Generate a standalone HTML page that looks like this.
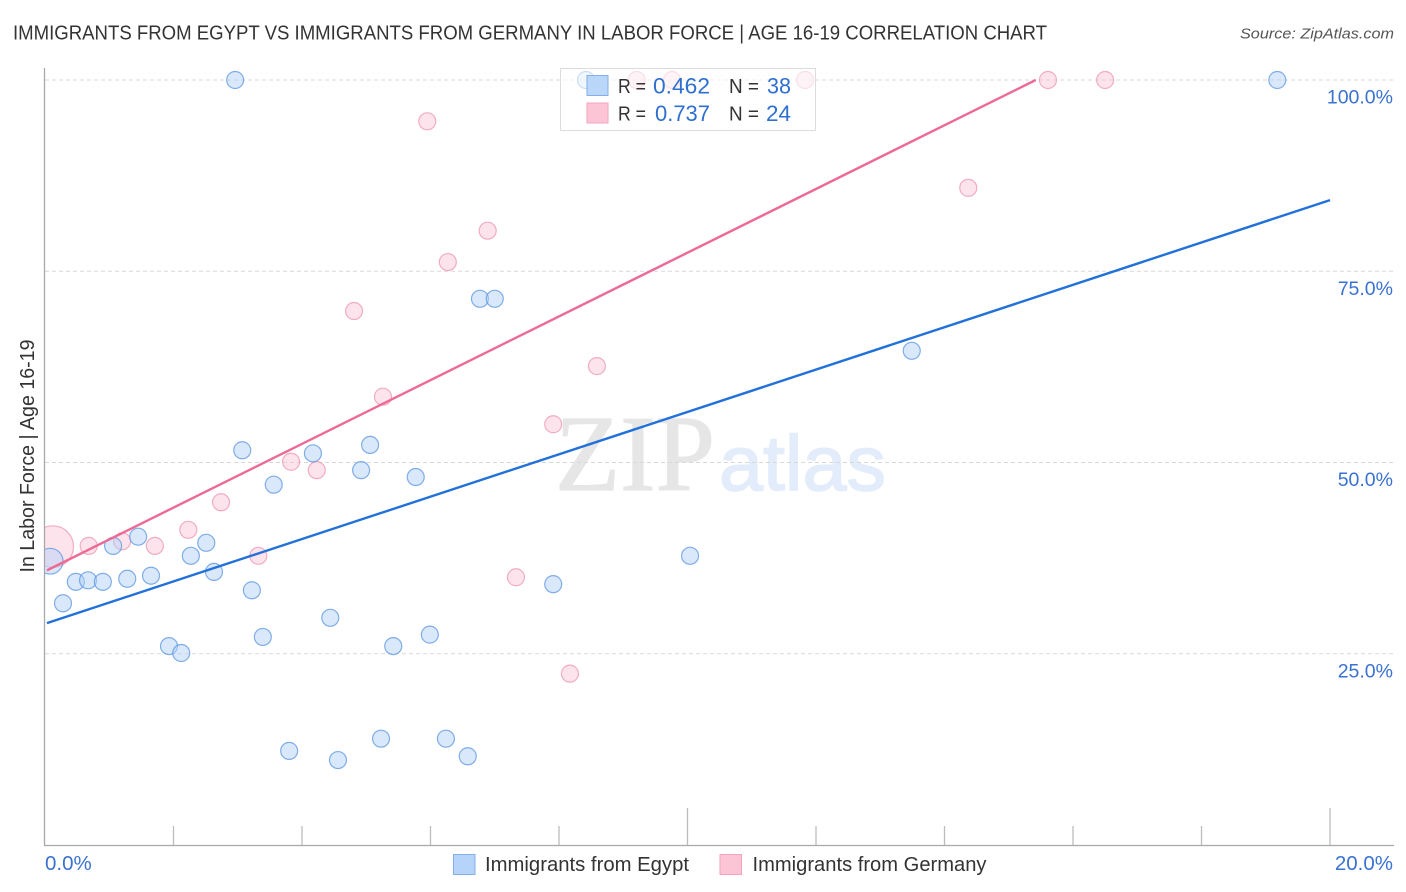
<!DOCTYPE html>
<html lang="en">
<head>
<meta charset="utf-8">
<title>Immigrants from Egypt vs Immigrants from Germany in Labor Force | Age 16-19 Correlation Chart</title>
<style>
html,body{margin:0;padding:0;background:#fff}
svg{display:block;font-family:"Liberation Sans",sans-serif}
</style>
</head>
<body>
<svg id="chart" xmlns="http://www.w3.org/2000/svg" width="1406" height="892" viewBox="0 0 1406 892">
<rect x="0" y="0" width="1406" height="892" fill="#ffffff"/>
<text x="13" y="39.5" font-size="20" fill="#333333" textLength="1034" lengthAdjust="spacingAndGlyphs">IMMIGRANTS FROM EGYPT VS IMMIGRANTS FROM GERMANY IN LABOR FORCE | AGE 16-19 CORRELATION CHART</text>
<text x="1394" y="38.5" font-size="15" font-style="italic" fill="#555555" text-anchor="end" textLength="154" lengthAdjust="spacingAndGlyphs">Source: ZipAtlas.com</text>
<g>
<text x="555" y="490" font-family="'Liberation Serif',serif" font-size="108" fill="#e6e6e6" stroke="#e6e6e6" stroke-width="1.2" textLength="160" lengthAdjust="spacingAndGlyphs">ZIP</text>
<text x="719" y="490" font-size="78" fill="#e3ecfa" stroke="#e3ecfa" stroke-width="1.5" textLength="167" lengthAdjust="spacingAndGlyphs">atlas</text>
</g>
<g id="grid"></g>
<g>
<g id="pink-points"></g>
<g id="blue-points"></g>
<g id="lines"></g>
</g>
<rect x="0" y="60" width="44.5" height="786" fill="#ffffff"/>
<g id="axes"></g>
<g id="tick-labels"></g>
<text transform="translate(34,456) rotate(-90)" font-size="20" fill="#333333" text-anchor="middle" textLength="233" lengthAdjust="spacingAndGlyphs">In Labor Force | Age 16-19</text>
<g>
<rect x="560.5" y="68.5" width="255" height="62" fill="#ffffff" fill-opacity="0.6" stroke="#dcdcdc" stroke-width="1"/>
<rect x="587" y="75.5" width="21" height="20" fill="#b6d4f9" stroke="#85ade6" stroke-width="1" fill-opacity="0.95"/>
<rect x="587" y="103" width="21" height="20" fill="#fcc5d6" stroke="#f3a3bd" stroke-width="1"/>
<text x="618" y="93" font-size="20" fill="#333333" textLength="28" lengthAdjust="spacingAndGlyphs">R =</text>
<text x="653" y="93.5" font-size="22" fill="#2f6fd0" textLength="57" lengthAdjust="spacingAndGlyphs">0.462</text>
<text x="729" y="93" font-size="20" fill="#333333" textLength="30" lengthAdjust="spacingAndGlyphs">N =</text>
<text x="767" y="93.5" font-size="22" fill="#2f6fd0" textLength="24" lengthAdjust="spacingAndGlyphs">38</text>
<text x="618" y="120.5" font-size="20" fill="#333333" textLength="28" lengthAdjust="spacingAndGlyphs">R =</text>
<text x="655" y="121" font-size="22" fill="#2f6fd0" textLength="55" lengthAdjust="spacingAndGlyphs">0.737</text>
<text x="729" y="120.5" font-size="20" fill="#333333" textLength="30" lengthAdjust="spacingAndGlyphs">N =</text>
<text x="766" y="121" font-size="22" fill="#2f6fd0" textLength="25" lengthAdjust="spacingAndGlyphs">24</text>
</g>
<g>
<rect x="453.5" y="854.5" width="21.5" height="20" fill="#b6d4f9" stroke="#85ade6" stroke-width="1"/>
<text x="485" y="871" font-size="20" fill="#333333" textLength="204" lengthAdjust="spacingAndGlyphs">Immigrants from Egypt</text>
<rect x="720" y="854.5" width="21.5" height="20" fill="#fcc5d6" stroke="#f3a3bd" stroke-width="1"/>
<text x="752.5" y="871" font-size="20" fill="#333333" textLength="234" lengthAdjust="spacingAndGlyphs">Immigrants from Germany</text>
</g>
</svg>
<script>
const yTickValues = [25, 50, 75, 100];
const yTickLabels = ["25.0%", "50.0%", "75.0%", "100.0%"];
const xTickValues = [0, 2, 4, 6, 8, 10, 12, 14, 16, 18, 20];
const xEndValues = [0, 20];
const xEndLabels = ["0.0%", "20.0%"];

const egyptX = [2.96, 8.42, 19.18, 6.77, 7.00, 13.49, 3.07, 4.17, 5.06, 4.92, 5.77, 3.56, 1.45, 1.06, 2.51, 2.27, 10.04, 0.08, 0.48, 0.67, 0.90, 1.28, 1.65, 2.63, 7.91, 3.22, 0.28, 4.44, 3.39, 5.99, 1.93, 2.12, 5.42, 3.80, 5.23, 6.24, 4.56, 6.58];
const egyptY = [100, 100, 100, 71.4, 71.4, 64.6, 51.6, 51.2, 52.3, 49.0, 48.1, 47.1, 40.3, 39.1, 39.5, 37.8, 37.8, 37.1, 34.4, 34.6, 34.4, 34.8, 35.2, 35.7, 34.1, 33.3, 31.6, 29.7, 27.2, 27.5, 26.0, 25.1, 26.0, 12.3, 13.9, 13.9, 11.1, 11.6];
const egyptWeight = [1, 1, 1, 1, 1, 1, 1, 1, 1, 1, 1, 1, 1, 1, 1, 1, 1, 2.3, 1, 1, 1, 1, 1, 1, 1, 1, 1, 1, 1, 1, 1, 1, 1, 1, 1, 1, 1, 1];

const germanyX = [9.21, 9.76, 11.83, 15.61, 16.50, 5.95, 14.37, 6.89, 6.27, 4.81, 8.59, 5.26, 7.91, 3.83, 4.23, 2.74, 2.23, 1.20, 0.68, 1.71, 0.12, 3.32, 7.33, 8.17];
const germanyY = [100, 100, 100, 100, 100, 94.6, 85.9, 80.3, 76.2, 69.8, 62.6, 58.6, 55.0, 50.1, 49.0, 44.8, 41.2, 39.7, 39.1, 39.1, 39.0, 37.8, 35.0, 22.4];
const germanyWeight = [1, 1, 1, 1, 1, 1, 1, 1, 1, 1, 1, 1, 1, 1, 1, 1, 1, 1, 1, 1, 6, 1, 1, 1];

const egyptTrendX = [0.03, 20];
const egyptTrendY = [29.0, 84.3];
const germanyTrendX = [0.03, 15.42];
const germanyTrendY = [35.9, 100];

const NS = "http://www.w3.org/2000/svg";
function xScale(v) { return 45 + v * 64.25; }
function yScale(v) { return 845 - v * 7.65; }
function radius(w) { return 8.5 * Math.sqrt(w); }
function make(tag, parentId, attrs) {
  const el = document.createElementNS(NS, tag);
  for (const k in attrs) el.setAttribute(k, attrs[k]);
  document.getElementById(parentId).appendChild(el);
  return el;
}

yTickValues.forEach(function (v) {
  const el = make("line", "grid", {x1: 45, x2: 1394, y1: yScale(v), y2: yScale(v), stroke: "#d8d8d8", "stroke-width": 1, "stroke-dasharray": "4 3"});
  
  
});

const yAxis = make("line", "axes", {x1: 44.5, x2: 44.5, y1: 68, y2: 845.5, stroke: "#a8a8a8", "stroke-width": 1.3});


const xAxis = make("line", "axes", {x1: 44, x2: 1394, y1: 845.5, y2: 845.5, stroke: "#a8a8a8", "stroke-width": 1.3});


xTickValues.slice(1).forEach(function (v) {
  const top = v % 10 === 0 ? 808 : 826;
  const el = make("line", "axes", {x1: xScale(v), x2: xScale(v), y1: top, y2: 845, stroke: "#bcbcbc", "stroke-width": 1.3});
  
  
});

germanyX.forEach(function (v, i) {
  const el = make("circle", "pink-points", {cx: xScale(v), cy: yScale(germanyY[i]), r: radius(germanyWeight[i]), fill: "#fbc3d4", "fill-opacity": 0.45, stroke: "#ee94b1", "stroke-opacity": 0.75, "stroke-width": 1.2});
  
  
});
egyptX.forEach(function (v, i) {
  const el = make("circle", "blue-points", {cx: xScale(v), cy: yScale(egyptY[i]), r: radius(egyptWeight[i]), fill: "#b3d1f6", "fill-opacity": 0.5, stroke: "#5b96e2", "stroke-opacity": 0.75, "stroke-width": 1.2});
  
  
});

const egyptLine = make("line", "lines", {x1: xScale(egyptTrendX[0]), y1: yScale(egyptTrendY[0]), x2: xScale(egyptTrendX[1]), y2: yScale(egyptTrendY[1]), stroke: "#2271d9", "stroke-width": 2.4});


const germanyLine = make("line", "lines", {x1: xScale(germanyTrendX[0]), y1: yScale(germanyTrendY[0]), x2: xScale(germanyTrendX[1]), y2: yScale(germanyTrendY[1]), stroke: "#ec6a94", "stroke-width": 2.4});



yTickValues.forEach(function (v, i) {
  const el = make("text", "tick-labels", {x: 1393, y: yScale(v) + 23.5, "text-anchor": "end", "font-size": 19.5, fill: "#3a72d0"});
  el.textContent = yTickLabels[i];
  
  
});
xEndValues.forEach(function (v, i) {
  const el = make("text", "tick-labels", {x: i === 0 ? xScale(v) : xScale(v) + 63, y: 870, "text-anchor": i === 0 ? "start" : "end", "font-size": 20.5, fill: "#3a72d0"});
  el.textContent = xEndLabels[i];
  
  
});
</script>
</body>
</html>
